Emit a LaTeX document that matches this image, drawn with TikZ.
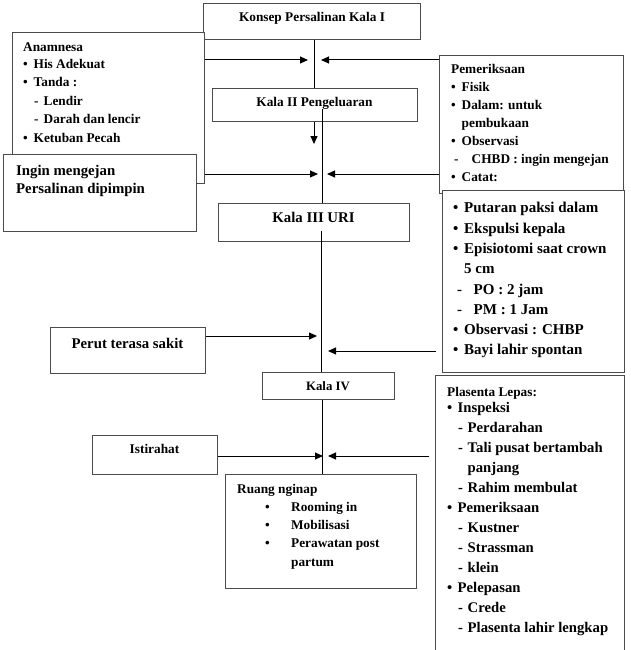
\documentclass[tikz,border=0pt]{standalone}
\usepackage{fontspec}
\setmainfont{Liberation Serif}
\usepackage{tikz}
\usetikzlibrary{positioning}
\usetikzlibrary{arrows.meta}

\newcommand{\bul}[1][10.5pt]{\makebox[#1][l]{\textbullet}}
\newcommand{\dsh}[1][11pt]{\makebox[20.5pt][l]{\hspace*{#1}-}}
\newcommand{\rbul}{\hspace*{28pt}\makebox[26pt][l]{\textbullet}}

\tikzset{
  box/.style={draw=black!70, line width=0.9pt, fill=white, anchor=north west, inner sep=0pt},
  title/.style={anchor=base, inner sep=0pt, font=\bfseries\fontsize{13.3}{16}\selectfont},
  list/.style={anchor=north west, inner sep=0pt, align=left, font=\bfseries\fontsize{13.3}{18.5}\selectfont},
  arr/.style={line width=1pt, -{Triangle[length=8pt,width=7pt]}},
  spine/.style={line width=1pt}
}

\begin{document}
\begin{tikzpicture}[x=1pt,y=-1pt]
        \useasboundingbox (0,0) rectangle (630,650);
        % boxes
        \node[box, minimum width=217, minimum height=36] (konsep) at (203,3) {};
        \node[box, minimum width=192, minimum height=151] (anamnesa) at (12,32) {};
        \node[box, minimum width=205, minimum height=33] (kala2) at (212,88) {};
        \node[box, minimum width=184, minimum height=138] (pemeriksaan) at (439,55) {};
        \node[box, minimum width=193, minimum height=77] (ingin) at (3,154) {};
        \node[box, minimum width=182, minimum height=182] (putaran) at (442,190) {};
        \node[box, minimum width=191, minimum height=38] (kala3) at (218,203) {};
        \node[box, minimum width=155, minimum height=46] (perut) at (50,327) {};
        \node[box, minimum width=132, minimum height=27] (kala4) at (262,372) {};
        \node[box, minimum width=189, minimum height=278] (plasenta) at (435,375) {};
        \node[box, minimum width=125, minimum height=39] (istirahat) at (92,435) {};
        \node[box, minimum width=191, minimum height=114] (ruang) at (225,474) {};

        % texts
        \node[title] (konseptxt) at (312,21.7) {Konsep Persalinan Kala I};
        \node[title] (kala2txt) at (314.5,106.4) {Kala II Pengeluaran};
        \node[title, font=\bfseries\fontsize{14.8}{17}\selectfont] (kala3txt) at (313.5,222.9) {Kala III URI};
        \node[title, font=\bfseries\fontsize{12.8}{15}\selectfont] (kala4txt) at (328,390.3) {Kala IV};
        \node[title, font=\bfseries\fontsize{14.8}{17}\selectfont] (peruttxt) at (127.5,348) {Perut terasa sakit};
        \node[title] (istirahattxt) at (154.5,453.4) {Istirahat};

        \node[list] (anamnesatxt) at (23,42.7) {Anamnesa\\[-2pt]
          \bul His Adekuat\\ \bul Tanda :\\ \dsh Lendir\\ \dsh Darah dan lencir\\ \bul Ketuban Pecah};
        \node[list, font=\bfseries\fontsize{13.3}{18}\selectfont] (pemeriksaantxt) at (451,64.4) {Pemeriksaan\\
          \bul Fisik\\ \bul Dalam: untuk\\ \hspace*{10.5pt}pembukaan\\ \bul Observasi\\
          \dsh[3pt]CHBD : ingin mengejan\\ \bul Catat:};
        \node[list, font=\bfseries\fontsize{14.8}{17.5}\selectfont] (ingintxt) at (16,165.2) {Ingin mengejan\\ Persalinan dipimpin};
        \node[list, font=\bfseries\fontsize{15}{20.3}\selectfont] (putarantxt) at (453,202.2) {\bul[11pt]Putaran paksi dalam\\
          \bul[11pt]Ekspulsi kepala\\ \bul[11pt]Episiotomi saat crown\\ \hspace*{11pt}5 cm\\
          \dsh[4pt]PO : 2 jam\\ \dsh[4pt]PM : 1 Jam\\ \bul[11pt]Observasi : CHBP\\ \bul[11pt]Bayi lahir spontan};
        \node[list, font=\bfseries\fontsize{14.7}{20}\selectfont] (plasentatxt) at (447,387) {{\fontsize{13.3}{16}\selectfont Plasenta Lepas:}\\[-4pt]
          \bul Inspeksi\\ \dsh Perdarahan\\ \dsh Tali pusat bertambah\\ \hspace*{20.5pt}panjang\\ \dsh Rahim membulat\\
          \bul Pemeriksaan\\ \dsh Kustner\\ \dsh Strassman\\ \dsh klein\\
          \bul Pelepasan\\ \dsh Crede\\ \dsh Plasenta lahir lengkap};
        \node[list, font=\bfseries\fontsize{13.3}{18.25}\selectfont] (ruangtxt) at (237,483.7) {Ruang nginap\\
          \rbul Rooming in\\ \rbul Mobilisasi\\ \rbul Perawatan post\\ \hspace*{54pt}partum};

        % spine
        \coordinate (c1) at (314,0);
        \coordinate (c2) at (322,0);
        \coordinate (c3) at (321,0);
        \draw[spine] (konsep.south -| c1) -- (kala2.north -| c1);
        \draw[spine] ([yshift=13pt]kala2.south -| c2) -- (kala3.north -| c2);
        \draw[spine] ([yshift=11pt]kala3.south -| c3) -- (kala4.north -| c3);
        \draw[spine] (kala4.south -| c2) -- (ruang.north -| c2);

        % arrows
        \coordinate (t1l) at (308,60);
        \coordinate (t1r) at (321,60);
        \coordinate (t2) at (314,144);
        \coordinate (t3l) at (318,174);
        \coordinate (t3r) at (327,174);
        \coordinate (t4l) at (317,336);
        \coordinate (t4r) at (328,351);
        \coordinate (t5l) at (323,456);
        \coordinate (t5r) at (328,456);
        \draw[arr] (anamnesa.east |- t1l) -- (t1l);
        \draw[arr] (pemeriksaan.west |- t1r) -- (t1r);
        \draw[arr] (kala2.south -| t2) -- (t2);
        \draw[arr] (anamnesa.east |- t3l) -- (t3l);
        \draw[arr] (pemeriksaan.west |- t3r) -- (t3r);
        \draw[arr] (perut.east |- t4l) -- (t4l);
        \draw[arr] ([xshift=-6pt]putaran.west |- t4r) -- (t4r);
        \draw[arr] (istirahat.east |- t5l) -- (t5l);
        \draw[arr] ([xshift=-6pt]plasenta.west |- t5r) -- (t5r);
\end{tikzpicture}
\end{document}
